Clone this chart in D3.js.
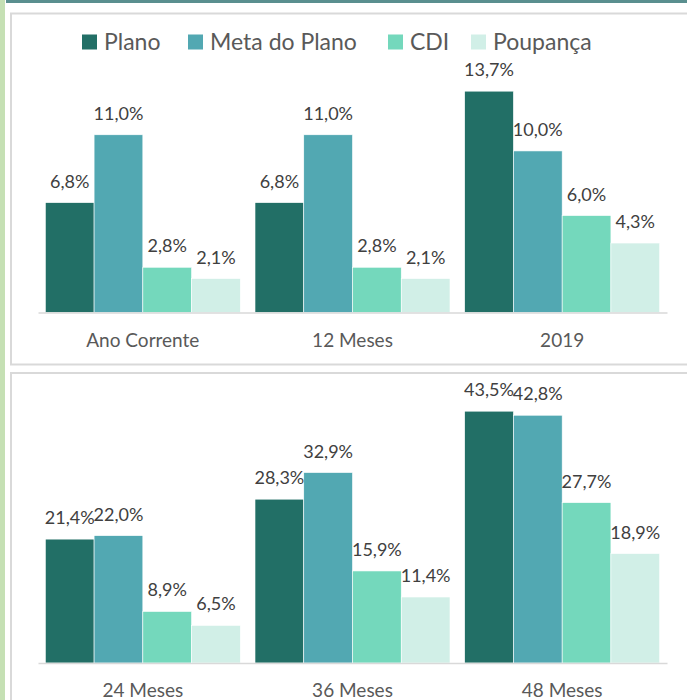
<!DOCTYPE html>
<html>
<head>
<meta charset="utf-8">
<script src="https://cdn.jsdelivr.net/npm/d3@7"></script>
<style>
    body { margin: 0; background: #ffffff; }
    svg { display: block; }
    text { font-family: Lato, "Open Sans", sans-serif; }
</style>
</head>
<body>
<div id="chart"></div>
<script>

// series shown in the legend
const series = ["Plano", "Meta do Plano", "CDI", "Poupança"];
const colors = ["#226f66", "#52a8b2", "#74d8bc", "#d1efe7"];

// periods, one group of bars each
const categories = ["Ano Corrente", "12 Meses", "2019", "24 Meses", "36 Meses", "48 Meses"];

// returns in % per period
const plano    = [6.8, 6.8, 13.7, 21.4, 28.3, 43.5];
const meta     = [11.0, 11.0, 10.0, 22.0, 32.9, 42.8];
const cdi      = [2.8, 2.8, 6.0, 8.9, 15.9, 27.7];
const poupanca = [2.1, 2.1, 4.3, 6.5, 11.4, 18.9];

const width = 687, height = 700;

const svg = d3.select("#chart").append("svg")
    .attr("width", width)
    .attr("height", height);

// page decoration: green strip on the left, teal bar on top
svg.append("rect").attr("x", 0).attr("y", 0).attr("width", 5).attr("height", height).attr("fill", "#c5e0b4");
svg.append("rect").attr("x", 6).attr("y", 0).attr("width", width).attr("height", 3).attr("fill", "#5a8f8f");

// build rows from the arrays
let rows = categories.map((c, i) => ({
    category: c,
    values: [plano[i], meta[i], cdi[i], poupanca[i]]
}));

let fmt = v => d3.format(".1f")(v).replace(".", ",") + "%";

class BarPanel {

    constructor(rows, box, yMax, showLegend) {
        this.rows = rows;
        this.box = box;         // {top, bottom, baseline, plotTop}
        this.yMax = yMax;
        this.showLegend = showLegend;
        this.initVis();
    }

    initVis() {
        let vis = this;

        // panel frame
        svg.append("rect")
            .attr("x", 11)
            .attr("y", vis.box.top)
            .attr("width", width)
            .attr("height", vis.box.bottom - vis.box.top)
            .attr("fill", "#ffffff")
            .attr("stroke", "#d9d9d9")
            .attr("stroke-width", 2);

        vis.g = svg.append("g");

        vis.x = d3.scaleBand()
            .domain(vis.rows.map(d => d.category))
            .range([38, 667])
            .paddingInner(0.07)
            .paddingOuter(0.035);

        vis.xInner = d3.scaleBand()
            .domain(series)
            .range([0, vis.x.bandwidth()]);

        vis.y = d3.scaleLinear()
            .domain([0, vis.yMax])
            .range([vis.box.baseline, vis.box.plotTop]);

        vis.updateVis();
    }

    updateVis() {
        let vis = this;

        let groups = vis.g.selectAll(".group")
            .data(vis.rows)
            .enter().append("g")
            .attr("class", "group")
            .attr("transform", d => `translate(${vis.x(d.category)},0)`);

        let cells = groups.selectAll(".cell")
            .data(d => d.values.map((v, i) => ({key: series[i], value: v, i: i})))
            .enter();

        cells.append("rect")
            .attr("x", d => vis.xInner(d.key))
            .attr("y", d => vis.y(d.value))
            .attr("width", vis.xInner.bandwidth())
            .attr("height", d => vis.y(0) - vis.y(d.value))
            .attr("fill", d => colors[d.i])
            .attr("stroke", "#ffffff")
            .attr("stroke-width", 0.6);

        cells.append("text")
            .attr("x", d => vis.xInner(d.key) + vis.xInner.bandwidth() / 2)
            .attr("y", d => vis.y(d.value) - 15)
            .attr("text-anchor", "middle")
            .attr("font-size", 18)
            .attr("fill", "#404040")
            .text(d => fmt(d.value));

        // category axis
        let xAxis = d3.axisBottom(vis.x).tickSize(0).tickPadding(0);
        let axisG = vis.g.append("g")
            .attr("transform", `translate(0,${vis.box.baseline})`)
            .call(xAxis);
        axisG.select(".domain").attr("stroke", "#d9d9d9").attr("stroke-width", 1.5);
        axisG.selectAll("text")
            .attr("dy", null)
            .attr("y", 34)
            .attr("font-size", 19)
            .attr("font-family", "Lato, sans-serif")
            .attr("fill", "#595959");

        if (vis.showLegend) vis.drawLegend();
    }

    drawLegend() {
        let legendX = [82, 188, 388, 471];
        let legend = svg.append("g").attr("class", "legend");
        series.forEach((s, i) => {
            legend.append("rect")
                .attr("x", legendX[i])
                .attr("y", 34.5)
                .attr("width", 15)
                .attr("height", 15)
                .attr("fill", colors[i]);
            legend.append("text")
                .attr("x", legendX[i] + 22)
                .attr("y", 49.5)
                .attr("font-size", 23)
                .attr("fill", "#595959")
                .text(s);
        });
    }
}

let topPanel = new BarPanel(rows.slice(0, 3), {top: 13.5, bottom: 364.5, baseline: 312.5, plotTop: 54}, 16, true);
let bottomPanel = new BarPanel(rows.slice(3), {top: 373, bottom: 760, baseline: 663, plotTop: 402.5}, 45, false);

</script>
</body>
</html>
